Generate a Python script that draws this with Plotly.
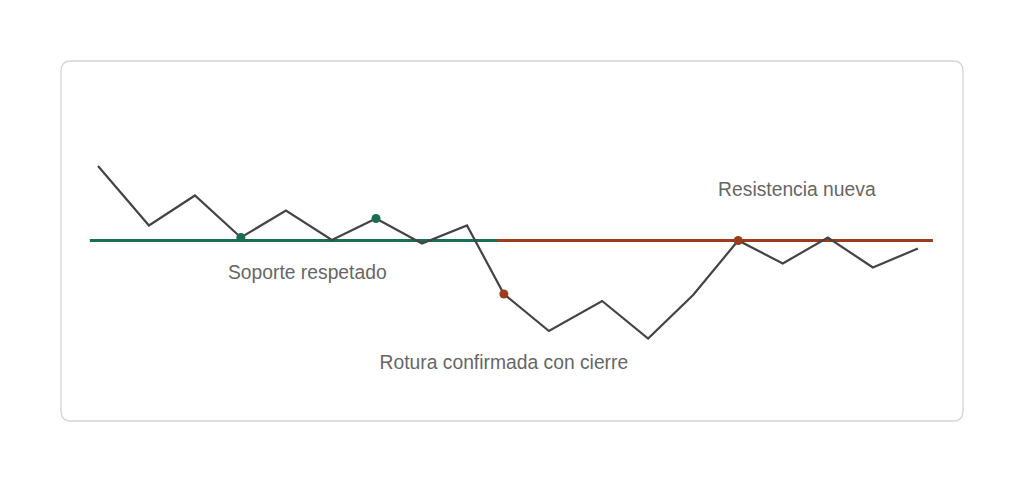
import plotly.graph_objects as go

# price path (arbitrary units), support level at 100
t = [0, 1.12, 2.13, 3.14, 4.13, 5.14, 6.11, 7.12, 8.11, 8.92,
     9.91, 11.08, 12.09, 13.08, 14.07, 15.05, 16.04, 17.03, 18.02]
price = [114.9, 103.0, 109.0, 100.6, 106.0, 100.1, 104.4, 99.4, 103.0, 89.3,
         81.9, 87.9, 80.4, 89.1, 100.0, 95.4, 100.6, 94.6, 98.4]

level = 100.0
support_x = [-0.18, 8.77]
resist_x = [8.77, 18.35]

touch_t = [3.14, 6.11]
touch_p = [100.6, 104.4]
break_t = [8.92, 14.07]
break_p = [89.3, 100.0]

labels = ["Soporte respetado", "Rotura confirmada con cierre", "Resistencia nueva"]
label_t = [4.6, 8.92, 15.36]
label_p = [93.3, 75.3, 109.8]

GREEN = "#1b6e50"
BROWN = "#9b3c1c"

fig = go.Figure()

fig.add_trace(go.Scatter(x=support_x, y=[level, level], mode="lines",
                         line=dict(color=GREEN, width=3), hoverinfo="skip"))
fig.add_trace(go.Scatter(x=resist_x, y=[level, level], mode="lines",
                         line=dict(color=BROWN, width=3), hoverinfo="skip"))
fig.add_trace(go.Scatter(x=t, y=price, mode="lines",
                         line=dict(color="#444444", width=2.2)))
fig.add_trace(go.Scatter(x=touch_t, y=touch_p, mode="markers",
                         marker=dict(color=GREEN, size=9)))
fig.add_trace(go.Scatter(x=break_t, y=break_p, mode="markers",
                         marker=dict(color=BROWN, size=9)))
fig.add_trace(go.Scatter(x=label_t, y=label_p, mode="text", text=labels,
                         textfont=dict(family="Liberation Sans, Arial", size=19.3, color="#666666")))

# rounded panel
x0, x1, y0, y1, r = 61 / 1024, 963 / 1024, 1 - 421 / 482, 1 - 61 / 482, 10
rx, ry = r / 1024, r / 482
path = (f"M {x0 + rx},{y0} L {x1 - rx},{y0} Q {x1},{y0} {x1},{y0 + ry} "
        f"L {x1},{y1 - ry} Q {x1},{y1} {x1 - rx},{y1} L {x0 + rx},{y1} "
        f"Q {x0},{y1} {x0},{y1 - ry} L {x0},{y0 + ry} Q {x0},{y0} {x0 + rx},{y0} Z")
fig.add_shape(type="path", path=path, xref="paper", yref="paper",
              line=dict(color="#d6d6d6", width=1.3), fillcolor="white", layer="below")

fig.update_layout(
    width=1024, height=482,
    margin=dict(l=0, r=0, t=0, b=0),
    paper_bgcolor="white", plot_bgcolor="rgba(0,0,0,0)",
    showlegend=False,
    xaxis=dict(range=[-98 / 45.5, (1024 - 98) / 45.5], visible=False),
    yaxis=dict(range=[100 - 241.5 / 5, 100 + 240.5 / 5], visible=False),
)

fig.write_html("out.html", config={"displayModeBar": False},
               post_script="document.body.style.margin='0';")
